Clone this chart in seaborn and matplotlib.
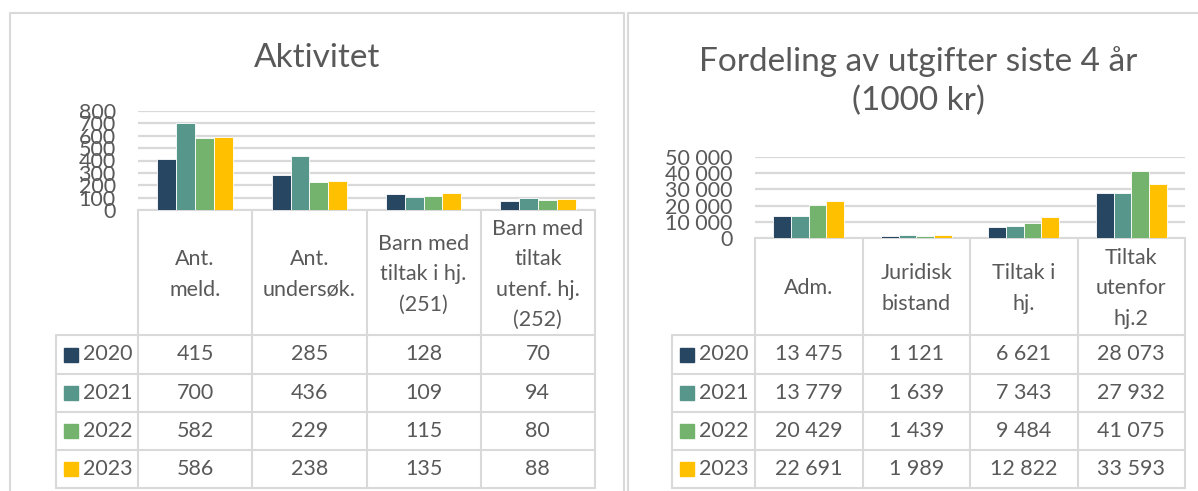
import matplotlib
matplotlib.use("Agg")
import matplotlib.pyplot as plt
import seaborn as sns
import pandas as pd

# --------------------
# data
# --------------------
years = ['2020', '2021', '2022', '2023']
colors = ['#264662', '#56968B', '#74B36D', '#FFC000']

act_cats = ['Ant.\nmeld.', 'Ant.\nundersøk.', 'Barn med\ntiltak i hj.\n(251)',
            'Barn med\ntiltak\nutenf. hj.\n(252)']
act_2020 = [415, 285, 128, 70]
act_2021 = [700, 436, 109, 94]
act_2022 = [582, 229, 115, 80]
act_2023 = [586, 238, 135, 88]
act_ticks = [0, 100, 200, 300, 400, 500, 600, 700, 800]

cost_cats = ['Adm.', 'Juridisk\nbistand', 'Tiltak i\nhj.', 'Tiltak\nutenfor\nhj.2']
cost_2020 = [13475, 1121, 6621, 28073]
cost_2021 = [13779, 1639, 7343, 27932]
cost_2022 = [20429, 1439, 9484, 41075]
cost_2023 = [22691, 1989, 12822, 33593]
cost_ticks = [0, 10000, 20000, 30000, 40000, 50000]

W, H = 1198, 491
TXT = '#595959'
GRID = '#D9D9D9'
FS = 15.5

sns.set_style("white")
plt.rcParams['font.family'] = ['Lato', 'DejaVu Sans']


def fmt(v):
    return f'{v:,}'.replace(',', ' ')


def px_axes(fig, x0, y0, x1, y1):
    # pixel box (top-left origin) -> figure axes
    return fig.add_axes([x0 / W, 1 - y1 / H, (x1 - x0) / W, (y1 - y0) / H])


fig = plt.figure(figsize=(W / 100, H / 100), dpi=100)
bg = fig.add_axes([0, 0, 1, 1], zorder=-1)
bg.set_xlim(0, W)
bg.set_ylim(H, 0)
bg.axis('off')

# panel frames
bg.plot([10, 10, 624, 624], [H, 13, 13, H], color=GRID, lw=1.5)
bg.plot([628, 628, W + 2], [H, 13, 13], color=GRID, lw=1.5)


def panel(cats, series, ticks, box, leg_x, title, title_x, title_y):
    x0, y0, x1, y1 = box
    df = pd.DataFrame({'cat': cats * 4,
                       'year': [y for y in years for _ in cats],
                       'value': [v for s in series for v in s]})
    ax = px_axes(fig, x0, y0, x1, y1)
    sns.barplot(data=df, x='cat', y='value', hue='year', palette=colors,
                saturation=1, width=0.66, edgecolor='white', linewidth=0.6,
                ax=ax, legend=False)
    ax.set_xlim(-0.5, len(cats) - 0.5)
    ax.set_ylim(0, ticks[-1])
    ax.set_yticks(ticks)
    ax.set_yticklabels([fmt(t) for t in ticks], fontsize=FS, color=TXT)
    ax.tick_params(axis='y', length=0, pad=16)
    ax.set_xticks([])
    ax.set_xlabel('')
    ax.set_ylabel('')
    ax.grid(axis='y', color=GRID, lw=1.6)
    ax.set_axisbelow(True)
    for s in ax.spines.values():
        s.set_visible(False)

    # data table
    cw = (x1 - x0) / len(cats)
    edges = [x0 + i * cw for i in range(len(cats) + 1)]
    hdr_bot = 335
    rows = [335, 374, 412, 450, 488]
    lw = 1.5
    bg.plot([x0, x1], [y1, y1], color=GRID, lw=lw)
    for e in edges:
        bg.plot([e, e], [y1, rows[-1]], color=GRID, lw=lw)
    bg.plot([leg_x, leg_x], [rows[0], rows[-1]], color=GRID, lw=lw)
    for r in rows:
        bg.plot([leg_x, x1], [r, r], color=GRID, lw=lw)
    for i, c in enumerate(cats):
        bg.text(edges[i] + cw / 2, (y1 + hdr_bot) / 2 + 2, c, ha='center',
                va='center', fontsize=FS, color=TXT, linespacing=1.65)
    for j, (yr, col, s) in enumerate(zip(years, colors, series)):
        yc = (rows[j] + rows[j + 1]) / 2
        bg.add_patch(plt.Rectangle((leg_x + 8, yc - 7), 14, 14, color=col))
        bg.text(leg_x + 27, yc, yr, ha='left', va='center', fontsize=FS,
                color=TXT)
        for i, v in enumerate(s):
            bg.text(edges[i] + cw / 2, yc, fmt(v), ha='center', va='center',
                    fontsize=FS, color=TXT)
    bg.text(title_x, title_y, title, ha='center', va='center', fontsize=24,
            color=TXT, linespacing=1.35)
    return ax


panel(act_cats, [act_2020, act_2021, act_2022, act_2023], act_ticks,
      (138, 111, 595, 210), 56, 'Aktivitet', 317, 58)
panel(cost_cats, [cost_2020, cost_2021, cost_2022, cost_2023], cost_ticks,
      (755, 157, 1185, 238), 672, 'Fordeling av utgifter siste 4 år\n(1000 kr)',
      918, 81)

fig.savefig('out.png', dpi=100)
